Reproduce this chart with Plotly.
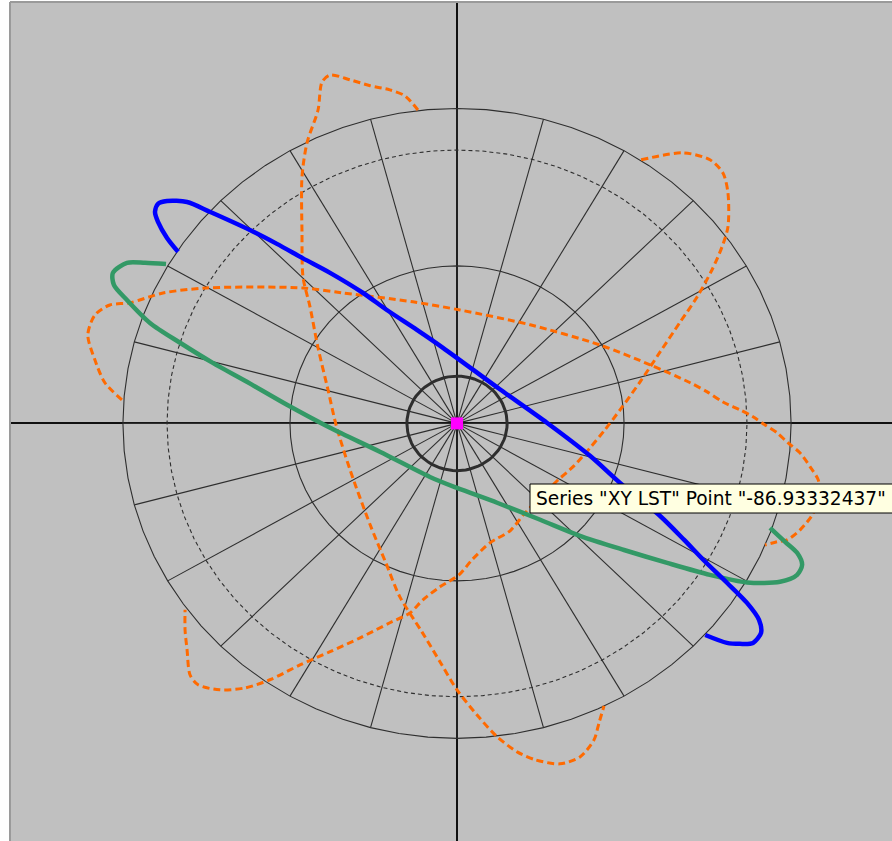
import numpy as np
import plotly.graph_objects as go

# Polar grid on a cartesian XY chart (outer ring radius = 100)
ring_solid = [100, 50]
ring_dashed = [86.8]
ring_hub = [15]
spoke_step_deg = 15

# Blue track
blue_x = [-83.5, -86.8, -89.5, -90.4, -89.5, -86.8, -80.8, -74.0, -62.0, -53.9, -46.1, -38.0,
          -28.1, -21.0, -12.0, -4.2, 12.6, 26.9, 39.8, 48.8, 60.8, 68.0, 73.7, 80.8, 86.8, 90.4,
          91.0, 88.6, 84.7, 80.8, 74.3]
blue_y = [54.5, 58.9, 64.0, 67.2, 69.7, 70.6, 70.3, 67.2, 61.4, 57.0, 52.4, 47.8,
          41.4, 36.0, 29.7, 24.0, 11.0, 0.2, -10.3, -18.9, -29.4, -37.0, -43.3, -50.6, -57.0, -62.4,
          -66.5, -69.7, -70.0, -69.7, -67.2]

# Green track
green_x = [93.7, 98.2, 101.8, 103.3, 101.8, 96.7, 86.8, 75.7, 62.9, 50.0, 36.8, 24.9, 12.0,
           0.0, -8.1, -23.1, -38.0, -50.9, -62.9, -73.1, -82.9, -91.9, -98.8, -102.7, -103.0,
           -98.8, -93.4, -87.1]
green_y = [-33.2, -37.6, -41.1, -44.9, -48.1, -50.3, -50.5, -48.1, -44.3, -40.2, -35.7, -30.6,
           -25.2, -20.5, -17.0, -9.0, -1.4, 5.9, 13.2, 19.2, 25.6, 31.9, 39.2, 44.0, 47.8,
           51.0, 51.0, 50.6]

# Orange dashed track (three visible passes, separated by gaps)
orange_x = [-11.7, -15.6, -20.1, -26.0, -32.0, -38.0, -40.4, -41.6, -44.9, -46.4, -46.4, -46.1,
            -44.0, -41.6, -38.6, -36.2, -32.0, -26.0, -21.3, -17.1, -10.5, -5.1, 0.0, 6.0,
            12.0, 18.0, 23.4, 30.8, 36.8, 41.0, 42.5, 44.0, None,
            55.1, 67.7, 75.7, 79.6, 81.1, 81.1, 79.3, 76.3, 71.9, 66.8, 60.8, 54.8, 48.8, 44.0,
            39.8, 35.0, 29.9, 20.4, 15.9, 9.9, 4.5, 0.6, -5.1, -10.2, -14.1, -20.1, -29.0,
            -38.0, -47.0, -56.0, -63.5, -71.0, -77.5, -79.9, -80.8, -81.4, -81.4, None,
            -100.3, -105.4, -108.4, -110.5, -108.4, -103.9, -97.9, -88.0, -74.9, -46.1, -34.1,
            -13.2, 0.9, 21.9, 42.8, 57.8, 69.8, 74.9, 79.6, 84.7, 88.6, 92.2, 95.8, 99.1, 102.7,
            105.7, 108.1, 108.7, 106.3, 102.7, 98.8, 95.8, 92.2]
orange_y = [99.5, 104.0, 105.9, 107.2, 109.1, 110.6, 108.4, 99.5, 89.1, 78.3, 60.5, 46.5,
            37.0, 24.0, 10.6, -0.5, -14.8, -32.2, -44.3, -55.1, -66.2, -75.7, -84.6, -92.6,
            -99.5, -104.3, -106.8, -108.1, -105.9, -100.5, -95.1, -89.7, None,
            83.7, 85.9, 83.7, 79.5, 73.2, 62.4, 56.0, 48.7, 40.2, 32.2, 22.7, 13.2, 4.3, -2.4,
            -7.8, -13.5, -18.3, -28.4, -34.1, -37.9, -43.3, -48.1, -51.9, -56.0, -60.2, -63.3,
            -68.1, -72.5, -76.7, -81.4, -84.0, -84.6, -83.0, -79.9, -71.9, -65.6, -59.2, None,
            7.5, 12.9, 20.2, 28.1, 34.4, 37.6, 38.3, 41.4, 43.0, 43.0, 41.4,
            38.6, 36.0, 31.3, 24.9, 18.6, 12.9, 10.0, 6.8, 4.3, 2.1, -0.5, -3.0, -6.2, -9.4,
            -13.8, -17.9, -22.7, -29.1, -33.8, -37.0, -37.6, -38.6]

# Selected point at the origin
point_x = [0]
point_y = [0]
tip_series = "XY LST"
tip_value = "-86.93332437"

GRID = "#2e2e2e"
theta = np.radians(np.arange(0, 361, 5))

fig = go.Figure()


def ring(r, dash="solid", width=1.1):
    fig.add_trace(go.Scatter(x=r * np.cos(theta), y=r * np.sin(theta), mode="lines",
                             line=dict(color=GRID, width=width, dash=dash),
                             hoverinfo="skip", showlegend=False))


# spokes from the centre to the outer ring
sx, sy = [], []
for a in np.radians(np.arange(0, 360, spoke_step_deg)):
    sx += [0, max(ring_solid) * np.cos(a), None]
    sy += [0, max(ring_solid) * np.sin(a), None]
fig.add_trace(go.Scatter(x=sx, y=sy, mode="lines", line=dict(color=GRID, width=1.1),
                         hoverinfo="skip", showlegend=False))
for r in ring_solid:
    ring(r)
for r in ring_dashed:
    ring(r, dash="4px,3px")
for r in ring_hub:
    ring(r, width=3)

fig.add_trace(go.Scatter(x=orange_x, y=orange_y, mode="lines", name="Orange",
                         line=dict(color="#ff6a00", width=3, dash="7px,4px", shape="spline",
                                   smoothing=0.8),
                         connectgaps=False, showlegend=False))
fig.add_trace(go.Scatter(x=green_x, y=green_y, mode="lines", name="Green",
                         line=dict(color="#339966", width=4.5, shape="spline", smoothing=0.8),
                         showlegend=False))
fig.add_trace(go.Scatter(x=blue_x, y=blue_y, mode="lines", name="Blue",
                         line=dict(color="#0000ff", width=4.5, shape="spline", smoothing=0.8),
                         showlegend=False))
fig.add_trace(go.Scatter(x=point_x, y=point_y, mode="markers", name=tip_series,
                         marker=dict(symbol="square", size=12, color="#ff00ff",
                                     line=dict(width=0)),
                         showlegend=False))

W, H = 892, 841
ML, MT = 10, 2
PW, PH = W - ML, H - MT


def px(xp):
    return (xp - ML) / PW


def py(yp):
    return (H - yp) / PH


# plot frame (left and top edges)
fig.add_shape(type="line", xref="paper", yref="paper", x0=0, x1=0, y0=0, y1=1,
              line=dict(color="#9a9a9a", width=2))
fig.add_shape(type="line", xref="paper", yref="paper", x0=0, x1=1, y0=1, y1=1,
              line=dict(color="#9a9a9a", width=2))

# hover tooltip box
fig.add_shape(type="rect", xref="paper", yref="paper", x0=px(530), x1=px(900),
              y0=py(513), y1=py(484), line=dict(color="#000000", width=1),
              fillcolor="#ffffe1", layer="above")
fig.add_annotation(xref="paper", yref="paper", x=px(534), y=py(498.5), xanchor="left",
                   yanchor="middle", showarrow=False,
                   text=f'Series "{tip_series}" Point "{tip_value}"',
                   font=dict(family="DejaVu Sans", size=18.6, color="#000000"))

fig.update_layout(
    width=W, height=H,
    margin=dict(l=ML, r=0, t=MT, b=0),
    paper_bgcolor="#ffffff", plot_bgcolor="#c0c0c0",
    xaxis=dict(range=[-133.8, 130.2], showgrid=False, showticklabels=False, ticks="",
               zeroline=True, zerolinecolor="#101010", zerolinewidth=2, fixedrange=True),
    yaxis=dict(range=[-132.6, 133.8], showgrid=False, showticklabels=False, ticks="",
               zeroline=True, zerolinecolor="#101010", zerolinewidth=2, fixedrange=True),
    showlegend=False,
)

fig.write_html("out.html")
